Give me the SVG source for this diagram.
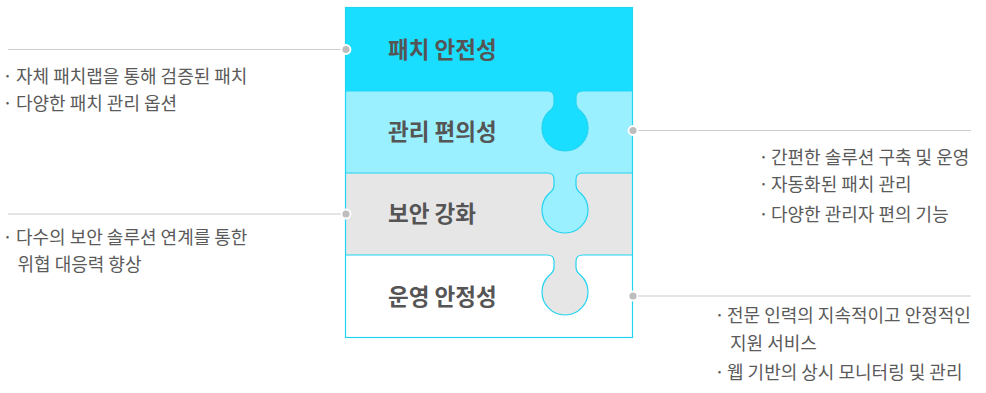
<svg xmlns="http://www.w3.org/2000/svg" width="986" height="393" viewBox="0 0 986 393">
<style>
.title{font-family:"Noto Sans CJK KR","Noto Sans",sans-serif;font-size:22.5px;font-weight:700;fill:#555555}
.item{font-family:"Noto Sans CJK KR","Noto Sans",sans-serif;font-size:18px;font-weight:400;fill:#5a5a5a}
.bul{text-anchor:middle}
.edge{fill:none;stroke:#22d4f0;stroke-width:1.2}
.lead{stroke:#cccccc;stroke-width:1.2;fill:none}
.dot{fill:#bdbdbd;stroke:#ffffff;stroke-width:1.8}
</style>
<rect x="0" y="0" width="986" height="393" fill="#ffffff"/>
<g id="row1">
<rect x="345.5" y="7.5" width="287" height="84" fill="#1adeff"/>
<text class="title" x="388" y="58">패치 안전성</text>
</g>
<g id="row2">
<rect x="345.5" y="91" width="287" height="82" fill="#9af0ff"/>
<path d="M547 91 Q554 91 554 97 L554 103 Q554 108 549 111.5 A23 23 0 1 0 581 111.5 Q576 108 576 103 L576 97 Q576 91 583 91 Z" fill="#1adeff"/>
<text class="title" x="388" y="140">관리 편의성</text>
</g>
<g id="row3">
<rect x="345.5" y="173" width="287" height="82" fill="#e6e6e6"/>
<path d="M547 173 Q554 173 554 179 L554 185 Q554 190 549 193.5 A23 23 0 1 0 581 193.5 Q576 190 576 185 L576 179 Q576 173 583 173 Z" fill="#9af0ff"/>
<text class="title" x="388" y="222">보안 강화</text>
</g>
<g id="row4">
<rect x="345.5" y="255" width="287" height="82.5" fill="#ffffff"/>
<path d="M547 255 Q554 255 554 261 L554 267 Q554 272 549 275.5 A23 23 0 1 0 581 275.5 Q576 272 576 267 L576 261 Q576 255 583 255 Z" fill="#e6e6e6"/>
<text class="title" x="388" y="305">운영 안정성</text>
</g>
<g id="outline">
<path class="edge" d="M345.5 91 L547 91 Q554 91 554 97 L554 103 Q554 108 549 111.5 A23 23 0 1 0 581 111.5 Q576 108 576 103 L576 97 Q576 91 583 91 L632.5 91"/>
<path class="edge" d="M345.5 173 L547 173 Q554 173 554 179 L554 185 Q554 190 549 193.5 A23 23 0 1 0 581 193.5 Q576 190 576 185 L576 179 Q576 173 583 173 L632.5 173"/>
<path class="edge" d="M345.5 255 L547 255 Q554 255 554 261 L554 267 Q554 272 549 275.5 A23 23 0 1 0 581 275.5 Q576 272 576 267 L576 261 Q576 255 583 255 L632.5 255"/>
<rect class="edge" x="345.5" y="7.5" width="287" height="330"/>
</g>
<g id="connectors">
<line class="lead" x1="8" y1="49.5" x2="346" y2="49.5"/>
<circle class="dot" cx="346" cy="49.5" r="4.5"/>
<line class="lead" x1="8" y1="214" x2="346" y2="214"/>
<circle class="dot" cx="346" cy="214" r="4.5"/>
<line class="lead" x1="633" y1="130.5" x2="971" y2="130.5"/>
<circle class="dot" cx="633" cy="130.5" r="4.5"/>
<line class="lead" x1="633" y1="296" x2="971" y2="296"/>
<circle class="dot" cx="633" cy="296" r="4.5"/>
</g>
<g id="notes-left-1">
<text class="item" y="83"><tspan class="bul" x="7.5">·</tspan><tspan x="16">자체 패치랩을 통해 검증된 패치</tspan></text>
<text class="item" y="110"><tspan class="bul" x="7.5">·</tspan><tspan x="16">다양한 패치 관리 옵션</tspan></text>
</g>
<g id="notes-left-2">
<text class="item" y="244"><tspan class="bul" x="7.5">·</tspan><tspan x="16">다수의 보안 솔루션 연계를 통한</tspan></text>
<text class="item" x="17.5" y="271">위협 대응력 향상</text>
</g>
<g id="notes-right-1">
<text class="item" y="164"><tspan class="bul" x="763.5">·</tspan><tspan x="771">간편한 솔루션 구축 및 운영</tspan></text>
<text class="item" y="191"><tspan class="bul" x="763.5">·</tspan><tspan x="771">자동화된 패치 관리</tspan></text>
<text class="item" y="221"><tspan class="bul" x="763.5">·</tspan><tspan x="771">다양한 관리자 편의 기능</tspan></text>
</g>
<g id="notes-right-2">
<text class="item" y="322"><tspan class="bul" x="719.5">·</tspan><tspan x="727">전문 인력의 지속적이고 안정적인</tspan></text>
<text class="item" x="730" y="350">지원 서비스</text>
<text class="item" y="379"><tspan class="bul" x="719.5">·</tspan><tspan x="727">웹 기반의 상시 모니터링 및 관리</tspan></text>
</g>
</svg>
